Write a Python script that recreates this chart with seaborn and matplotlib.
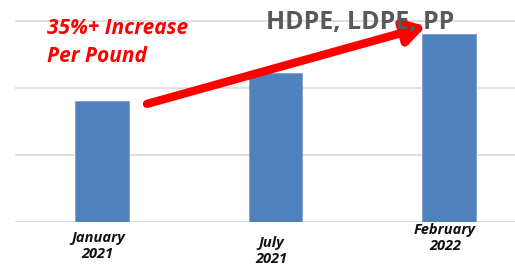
import matplotlib
matplotlib.use("Agg")
import matplotlib.pyplot as plt
import seaborn as sns
import pandas as pd

categories = ["January\n2021", "July\n2021", "February\n2022"]
values = [1.80, 2.22, 2.80]
label_drops_px = [9, 14, 1]  # how far below the baseline each category label starts

sns.set_theme(style="white")
plt.rcParams['font.family'] = ['Open Sans', 'DejaVu Sans']

df = pd.DataFrame({"period": categories, "value": values})

fig = plt.figure(figsize=(5.15, 2.65), dpi=100)
ax = fig.add_axes([15/515, 1 - 222/265, 500/515, 222/265])

sns.barplot(data=df, x="period", y="value", color="#4f81bd", width=0.31,
            saturation=1, edgecolor="#7a9fd0", linewidth=0.6, ax=ax, zorder=3)

ax.set_xlim(-0.5, 2.38)
ax.set_ylim(0, 222/67)
ax.set_yticks([0, 1, 2, 3])
ax.yaxis.grid(True, color="#d9d9d9", linewidth=1.2, zorder=0)
ax.set_axisbelow(True)
ax.tick_params(left=False, bottom=False, labelleft=False, labelbottom=False)
for s in ax.spines.values():
    s.set_visible(False)
ax.set_xlabel("")
ax.set_ylabel("")

trans = ax.get_xaxis_transform()
for i, (lab, drop) in enumerate(zip(categories, label_drops_px)):
    ax.annotate(lab, xy=(i, 0), xycoords=trans, xytext=(-4, -drop),
                textcoords="offset pixels", ha="center", va="top",
                fontsize=10.5, fontweight="bold", fontstyle="italic", color="#111111",
                linespacing=1.15, annotation_clip=False)

fig.text(47/515, 1 - 18/265, "35%+ Increase\nPer Pound", ha="left", va="top",
         fontsize=15, fontweight="bold", fontstyle="italic", color="#ff0000",
         linespacing=1.45)

fig.text(360/515, 1 - 22/265, "HDPE, LDPE, PP", ha="center", va="center",
         fontsize=18, fontweight="bold", color="#595959")

ax.annotate("", xy=(0.822, 0.882), xytext=(0.264, 0.532),
            xycoords="axes fraction", textcoords="axes fraction",
            arrowprops=dict(arrowstyle="-|>,head_length=1.0,head_width=0.6",
                            color="#ff0000", lw=6, shrinkA=0, shrinkB=0),
            zorder=5)

fig.savefig("out.png", dpi=100)
